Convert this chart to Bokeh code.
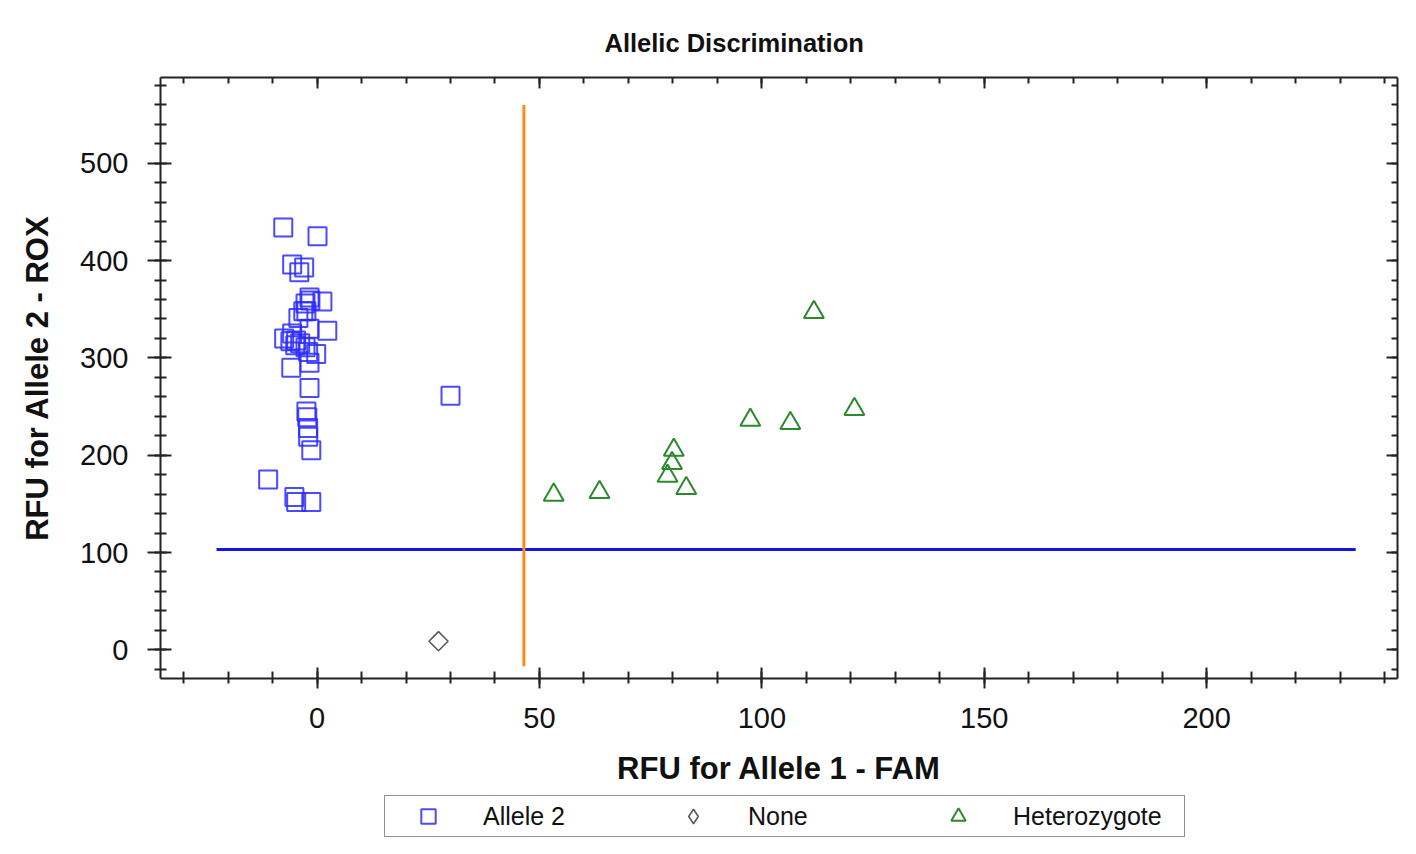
import numpy as np
from bokeh.plotting import figure
from bokeh.layouts import column
from bokeh.models import (LinearAxis, SingleIntervalTicker, Range1d, Legend,
                          LegendItem, CustomJSTickFormatter)
from bokeh.embed import file_html
from bokeh.resources import INLINE

# ---- data ----
allele2_x = [-7.6, 0.1, -5.6, -4.0, -2.9, -1.7, 1.2, -2.6, -3.1, -1.5, -2.4, 2.3,
             -1.7, -7.4, -5.6, -6.0, -4.7, -3.8, -2.6, -2.0, -0.2, -5.8, -1.7,
             -1.7, -2.4, -2.2, -2.0, -2.0, -1.3, -11.0, -5.1, -4.7, -1.3, -4.2,
             -4.9, 30.0]
allele2_y = [434, 425, 396, 388, 393, 362, 358, 356, 348, 359, 348, 328,
             330, 320, 325, 317, 318, 315, 311, 306, 304, 290, 295,
             269, 245, 239, 228, 219, 205, 175, 157, 152, 152, 341,
             313, 261]

none_x = [27.3]
none_y = [8.8]

het_x = [53.2, 63.5, 80.2, 79.8, 78.8, 83.0, 97.4, 106.4, 111.7, 120.8]
het_y = [159.2, 161.9, 205.4, 191.8, 178.7, 166.1, 236.2, 232.9, 346.9, 247.2]

# threshold lines
fam_threshold = 46.5
fam_line_y = [-17.0, 560.0]
rox_threshold = 103.0
rox_line_x = [-22.6, 233.5]

x_limits = [-35.2, 242.9]
y_limits = [-29.5, 588.2]

legend_labels = ["Allele 2", "None", "Heterozygote"]

FONT = "Liberation Sans"

p = figure(width=1400, height=795, output_backend="svg", toolbar_location=None,
           x_range=Range1d(*x_limits), y_range=Range1d(*y_limits),
           min_border_left=160, min_border_right=3, min_border_top=77,
           min_border_bottom=117)
p.grid.visible = False
p.outline_line_color = None
p.background_fill_color = "white"
p.border_fill_color = "white"

# title
p.title.text = "Allelic Discrimination"
p.title.text_font = FONT
p.title.text_font_size = "25.5px"
p.title.text_font_style = "bold"
p.title.align = "left"
p.title.offset = 444
p.title.standoff = 42
p.title.text_color = "#111111"

def style_axis(ax):
    ax.axis_line_width = 2
    ax.axis_line_color = "#222222"
    ax.major_tick_line_width = 2
    ax.major_tick_line_color = "#222222"
    ax.minor_tick_line_width = 2
    ax.minor_tick_line_color = "#222222"
    ax.major_label_text_font = FONT
    ax.major_label_text_font_size = "29px"
    ax.major_label_text_color = "#111111"
    ax.axis_label_text_font = FONT
    ax.axis_label_text_font_size = "31px"
    ax.axis_label_text_font_style = "bold"
    ax.axis_label_text_color = "#111111"

xa = p.xaxis[0]
xa.ticker = SingleIntervalTicker(interval=50, num_minor_ticks=5)
style_axis(xa)
xa.major_tick_in = 11
xa.major_tick_out = 10
xa.minor_tick_in = 7
xa.minor_tick_out = 5
xa.major_label_standoff = 19
xa.axis_label = "RFU for Allele 1 - FAM"
xa.axis_label_standoff = 20

ya = p.yaxis[0]
ya.ticker = SingleIntervalTicker(interval=100, num_minor_ticks=5)
style_axis(ya)
ya.major_tick_in = 11
ya.major_tick_out = 13
ya.minor_tick_in = 6
ya.minor_tick_out = 6
ya.major_label_standoff = 19
ya.axis_label = "RFU for Allele 2 - ROX"
ya.axis_label_standoff = 22

blank = CustomJSTickFormatter(code="return ''")
top = LinearAxis(ticker=SingleIntervalTicker(interval=50, num_minor_ticks=5), formatter=blank)
right = LinearAxis(ticker=SingleIntervalTicker(interval=100, num_minor_ticks=5), formatter=blank)
for ax in (top, right):
    style_axis(ax)
    ax.major_label_standoff = 0
    ax.major_tick_out = 0
    ax.minor_tick_out = 0
    ax.major_tick_in = 11
    ax.minor_tick_in = 6
p.add_layout(top, "above")
p.add_layout(right, "right")

# threshold lines
p.segment(x0=[rox_line_x[0]], y0=[rox_threshold], x1=[rox_line_x[1]], y1=[rox_threshold],
          line_color="#1414e6", line_width=3)
p.segment(x0=[fam_threshold], y0=[fam_line_y[0]], x1=[fam_threshold], y1=[fam_line_y[1]],
          line_color="#ff8a14", line_width=3)

# points
SQ = dict(marker="square", fill_color=None, line_color="#2a2aff", line_width=2, line_alpha=0.85)
DI = dict(fill_color=None, line_color="#5a5a5a", line_width=1.6)
TR = dict(marker="triangle", fill_color=None, line_color="#2b8a2b", line_width=2)

p.scatter(allele2_x, allele2_y, size=18, **SQ)
p.scatter(none_x, none_y, marker="square", size=13.5, angle=np.pi / 4, **DI)
p.scatter(het_x, het_y, size=20, **TR)

# ---- legend strip below the plot ----
lg = figure(width=1400, height=43, output_backend="svg", toolbar_location=None,
            x_range=Range1d(1000, 1001), y_range=Range1d(1000, 1001), min_border=0)
lg.axis.visible = False
lg.grid.visible = False
lg.outline_line_color = None
lg.background_fill_color = "white"
lg.border_fill_color = "white"

# swatch renderers (their points fall outside this strip's ranges, so only
# the legend swatches show)
s1 = lg.scatter(allele2_x[:1], allele2_y[:1], **SQ)
s2 = lg.scatter(none_x, none_y, marker="diamond", **DI)
s3 = lg.scatter(het_x[:1], het_y[:1], **TR)

legend = Legend(items=[LegendItem(label=legend_labels[0], renderers=[s1]),
                       LegendItem(label=legend_labels[1], renderers=[s2]),
                       LegendItem(label=legend_labels[2], renderers=[s3])],
                orientation="horizontal", location=(224, 1),
                glyph_width=82, glyph_height=36, label_standoff=14,
                label_width=169, spacing=0, padding=2, margin=0,
                border_line_color="#222222", border_line_width=1.5,
                label_text_font=FONT, label_text_font_size="25px",
                label_text_color="#111111", background_fill_color="white")
lg.add_layout(legend, "center")

page = column(p, lg, spacing=0)
open("out.html", "w").write(file_html(page, INLINE))
